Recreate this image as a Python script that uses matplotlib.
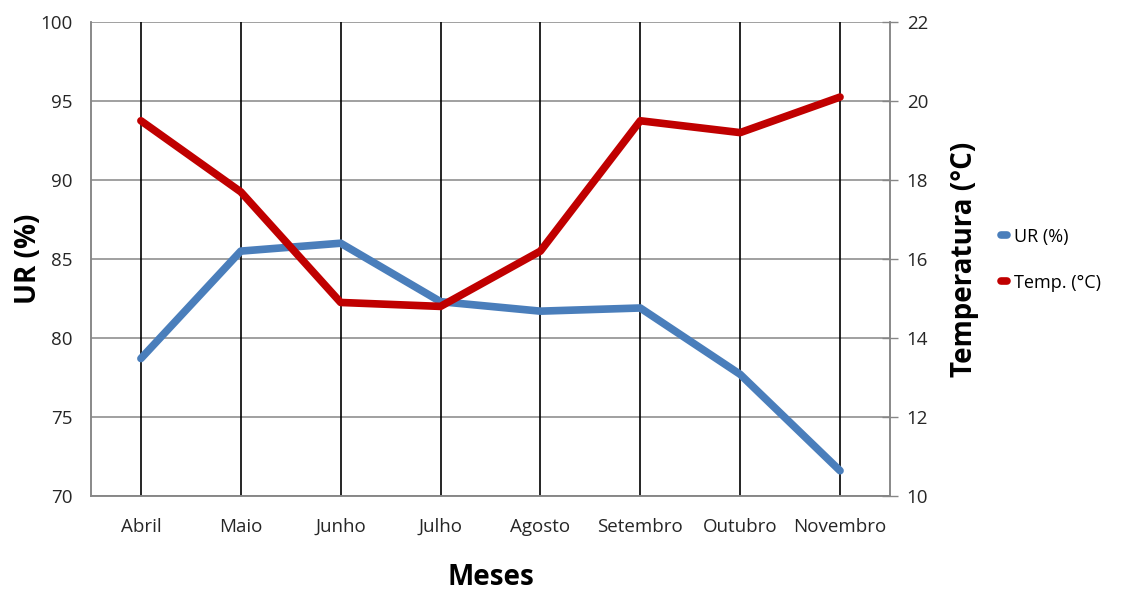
import matplotlib
matplotlib.use("Agg")
import matplotlib.pyplot as plt

meses = ["Abril", "Maio", "Junho", "Julho", "Agosto", "Setembro", "Outubro", "Novembro"]
ur = [78.7, 85.5, 86.0, 82.3, 81.7, 81.9, 77.7, 71.6]
temp = [19.5, 17.7, 14.9, 14.8, 16.2, 19.5, 19.2, 20.1]

ur_ticks = [70, 75, 80, 85, 90, 95, 100]
temp_ticks = [10, 12, 14, 16, 18, 20, 22]

blue = "#4A7EBB"
red = "#C00000"
axis_gray = "#868686"
text_col = "#262626"

plt.rcParams["font.family"] = ["Open Sans", "DejaVu Sans"]

fig = plt.figure(figsize=(11.23, 5.90), dpi=100)
ax = fig.add_axes([0.081, 0.1593, 0.7115, 0.8034])
ax2 = ax.twinx()

x = list(range(len(meses)))
ax.set_xlim(-0.5, len(meses) - 0.5)
ax.set_ylim(ur_ticks[0], ur_ticks[-1])
ax2.set_ylim(temp_ticks[0], temp_ticks[-1])

# horizontal gridlines (gray) and category gridlines (black)
for v in ur_ticks:
    ax.axhline(v, color=axis_gray, lw=1.1, zorder=1)
for xi in x:
    ax.axvline(xi, color="black", lw=1.2, zorder=1)

l1, = ax.plot(x, ur, color=blue, lw=5.5, solid_capstyle="round",
              solid_joinstyle="round", zorder=3, label="UR (%)")
l2, = ax2.plot(x, temp, color=red, lw=5.5, solid_capstyle="round",
               solid_joinstyle="round", zorder=3, label="Temp. (°C)")

ax.set_xticks(x)
ax.set_xticklabels(meses, fontsize=13.5)
ax.set_yticks(ur_ticks)
ax.set_yticklabels([str(t) for t in ur_ticks], fontsize=13.5)
ax2.set_yticks(temp_ticks)
ax2.set_yticklabels([str(t) for t in temp_ticks], fontsize=13.5)

ax.tick_params(axis="x", length=0, pad=16, labelcolor=text_col)
ax.tick_params(axis="y", length=0, pad=13.5, labelcolor=text_col)
ax2.tick_params(axis="y", direction="inout", length=12, width=1,
                color=axis_gray, pad=6, labelcolor=text_col)

for a in (ax, ax2):
    a.spines["top"].set_visible(False)
    for s in ("left", "right", "bottom"):
        a.spines[s].set_color(axis_gray)
        a.spines[s].set_linewidth(1.1)

ax.set_ylabel("UR (%)", fontsize=20, fontweight="bold", labelpad=-2)
ax2.set_ylabel("Temperatura (°C)", fontsize=20, fontweight="bold", labelpad=16)
ax.set_xlabel("Meses", fontsize=20, fontweight="bold", labelpad=19)

fig.legend(handles=[l1, l2], labels=["UR (%)", "Temp. (°C)"],
           loc="center left", bbox_to_anchor=(0.877, 0.560),
           frameon=False, fontsize=13, handlelength=0.35, handletextpad=0.35,
           labelspacing=1.55)

fig.savefig("out.png", dpi=100, facecolor="white")
